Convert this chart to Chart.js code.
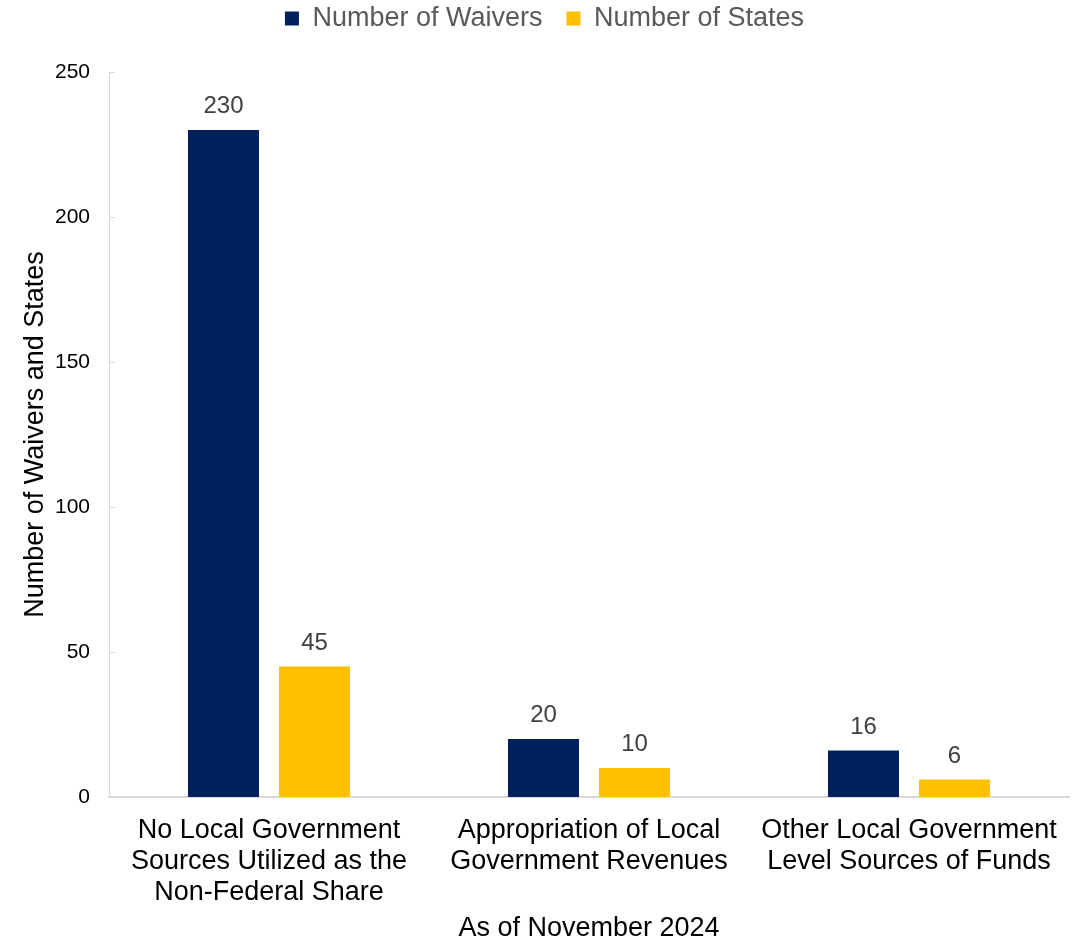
<!DOCTYPE html>
<html>
<head>
<meta charset="utf-8">
<script src="https://cdn.jsdelivr.net/npm/chart.js@4"></script>
<style>
  body { margin: 0; background: #fff; }
  #wrap { width: 1076px; height: 940px; }
</style>
</head>
<body>
<div id="wrap"><canvas id="chart" width="1076" height="940"></canvas></div>
<script>
const categories = [
    ["No Local Government", "Sources Utilized as the", "Non-Federal Share"],
    ["Appropriation of Local", "Government Revenues"],
    ["Other Local Government", "Level Sources of Funds"]
];
const waivers = [230, 20, 16];
const states = [45, 10, 6];
const yTicks = [0, 50, 100, 150, 200, 250];

const FONT = "'Liberation Sans', Arial, sans-serif";

// value labels above each bar
const barLabels = {
    id: "barLabels",
    afterDatasetsDraw(chart) {
        const ctx = chart.ctx;
        ctx.save();
        ctx.font = "24px " + FONT;
        ctx.fillStyle = "#404040";
        ctx.textAlign = "center";
        ctx.textBaseline = "alphabetic";
        chart.data.datasets.forEach((ds, i) => {
            chart.getDatasetMeta(i).data.forEach((bar, j) => {
                ctx.fillText(ds.data[j], bar.x, bar.y - 17);
            });
        });
        ctx.restore();
    }
};

// short tick marks pointing into the plot from the y axis
const innerTicks = {
    id: "innerTicks",
    afterDraw(chart) {
        const y = chart.scales.y;
        const ctx = chart.ctx;
        ctx.save();
        ctx.strokeStyle = "#d9d9d9";
        ctx.lineWidth = 1;
        yTicks.forEach(v => {
            const py = Math.round(y.getPixelForValue(v)) + 0.5;
            ctx.beginPath();
            ctx.moveTo(y.right, py);
            ctx.lineTo(y.right + 6, py);
            ctx.stroke();
        });
        ctx.restore();
    }
};

// reserve a fixed band for the legend and lift it towards the top edge
const legendBand = {
    id: "legendBand",
    beforeInit(chart) {
        const legend = chart.legend;
        const fit = legend.fit;
        legend.fit = function () {
            fit.call(legend);
            legend.height = 72;
        };
        const draw = legend.draw;
        legend.draw = function () {
            chart.ctx.save();
            chart.ctx.translate(10, -19);
            draw.call(legend);
            chart.ctx.restore();
        };
    }
};

new Chart(document.getElementById("chart"), {
    type: "bar",
    data: {
        labels: categories,
        datasets: [
            {
                label: "Number of Waivers",
                data: waivers,
                backgroundColor: "#00215c",
                categoryPercentage: 0.569,
                barPercentage: 0.78
            },
            {
                label: "Number of States",
                data: states,
                backgroundColor: "#ffc000",
                categoryPercentage: 0.569,
                barPercentage: 0.78
            }
        ]
    },
    options: {
        responsive: false,
        animation: false,
        layout: { padding: { left: 0, right: 7, top: 0, bottom: 0 } },
        plugins: {
            legend: {
                position: "top",
                labels: {
                    boxWidth: 14,
                    boxHeight: 14,
                    padding: 24,
                    color: "#595959",
                    font: { family: FONT, size: 27 }
                }
            },
            tooltip: { enabled: false }
        },
        scales: {
            x: {
                grid: { display: false },
                border: { display: true, color: "#d9d9d9", width: 2 },
                ticks: {
                    color: "#000",
                    padding: 10,
                    maxRotation: 0,
                    font: { family: FONT, size: 27, lineHeight: 1.15 }
                },
                title: {
                    display: true,
                    text: "As of November 2024",
                    color: "#000",
                    padding: { top: 0, bottom: -5 },
                    font: { family: FONT, size: 27 }
                },
                afterFit(scale) { scale.height = 143; }
            },
            y: {
                min: 0,
                max: 250,
                afterBuildTicks(scale) {
                    scale.ticks = yTicks.map(v => ({ value: v }));
                },
                grid: { display: false },
                border: { display: true, color: "#d9d9d9", width: 1 },
                ticks: {
                    color: "#000",
                    padding: 11,
                    font: { family: FONT, size: 21 }
                },
                title: {
                    display: true,
                    text: "Number of Waivers and States",
                    color: "#000",
                    padding: { top: 19, bottom: 0 },
                    font: { family: FONT, size: 27 }
                },
                afterFit(scale) { scale.width = 109; }
            }
        }
    },
    plugins: [legendBand, barLabels, innerTicks]
});
</script>
</body>
</html>
